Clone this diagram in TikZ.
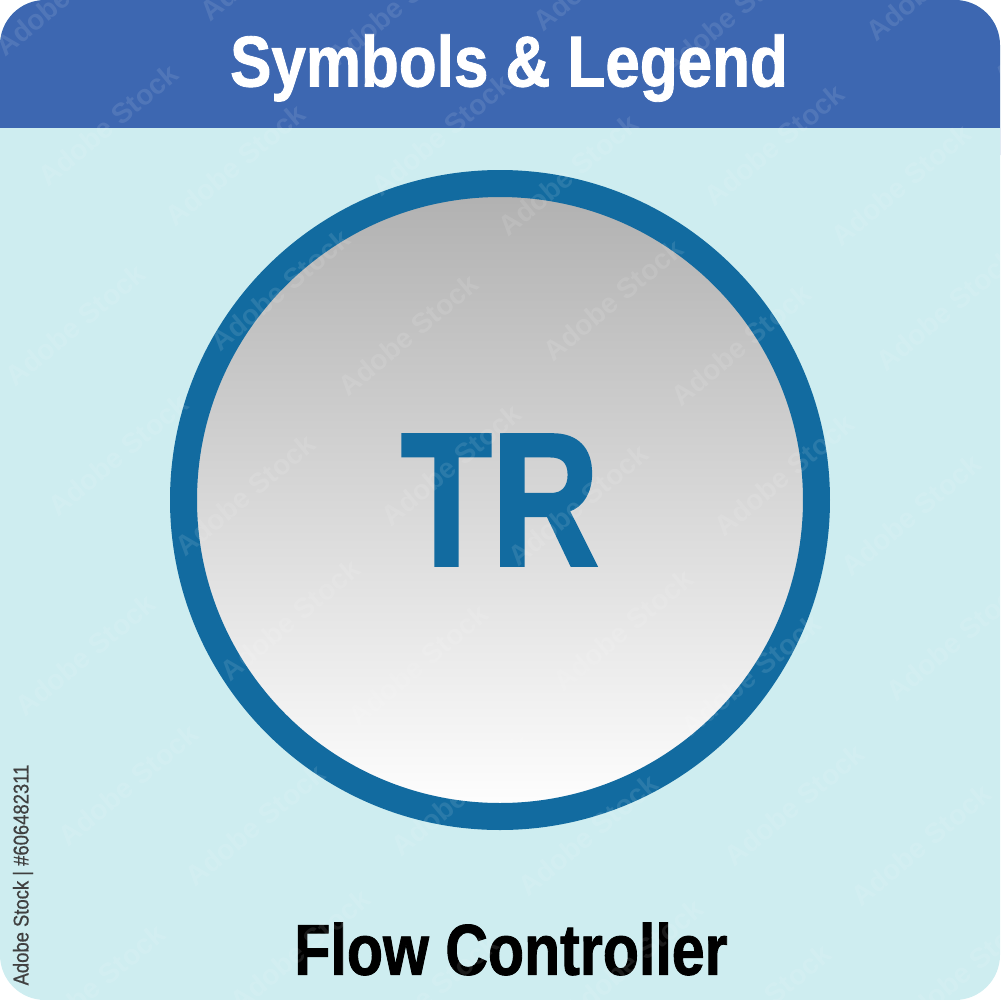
\documentclass[tikz,border=0pt]{standalone}
\usepackage{fontspec}
\setmainfont{Liberation Sans}
\newfontfamily\headbold[FakeStretch=0.86, FakeBold=1.2]{Liberation Sans Bold}
\newfontfamily\namebold[FakeStretch=0.82, FakeBold=1.2]{Liberation Sans Bold}
\newfontfamily\tagbold[FakeStretch=0.78, FakeBold=1.6]{Liberation Sans Bold}
\newfontfamily\creditfont[FakeStretch=0.86, FakeBold=0.6]{Liberation Sans}
\usetikzlibrary{positioning}
\definecolor{headblue}{HTML}{3D67B1}
\definecolor{cardcyan}{HTML}{CEEDF0}
\definecolor{ringblue}{HTML}{126BA0}
\begin{document}
\begin{tikzpicture}[x=0.1mm, y=-0.1mm,
    heading/.style = {text=white, font=\headbold\fontsize{20.5}{24}\selectfont},
    caption/.style = {text=black, font=\namebold\fontsize{20.5}{24}\selectfont},
    symbol/.style = {text=ringblue, font=\tagbold\fontsize{54}{60}\selectfont},
    ring/.style = {draw=ringblue, line width=2.7mm, circle, inner sep=0pt, minimum size=63.3mm, top color=black!31, bottom color=white},
    credit/.style = {text=black!75, rotate=90, font=\creditfont\fontsize{6.1}{7}\selectfont},
    stamp/.style = {text=white, opacity=0.1, rotate=40, font=\bfseries\fontsize{8}{10}\selectfont}]
    \useasboundingbox (0,0) rectangle (1000,1000);
    \fill[cardcyan, rounded corners=4.5mm] (0,0) rectangle (1000,1000);
    \fill[headblue, rounded corners=4.5mm] (0,200) -- (0,0) -- (1000,0) -- (1000,200) -- cycle;
    \fill[cardcyan] (0,128) rectangle (1000,210);

    \node[heading] (title) at (509,68) {Symbols \& Legend};
    \node[ring] (dial) at (500,500) {};
    \node[symbol] (tag) at (dial.center) {TR};
    \node[caption] (name) at (511,949) {Flow Controller};
    \node[credit] (source) at (23,875) {Adobe Stock | \#606482311};

    \begin{scope}
        \clip[rounded corners=4.5mm] (0,0) rectangle (1000,1000);
        \foreach \i in {0,...,3}
            \foreach \j in {-1,...,2}
                \foreach \dx/\dy/\k in {0/0/a, 205/-35/b, 43/130/c, 170/170/d}
                    \node[stamp] (stamp-\i-\j-\k) at ({75+333*\i+10*\j+\dx}, {325+10*\i+330*\j+\dy}) {Adobe Stock};
    \end{scope}
\end{tikzpicture}
\end{document}
